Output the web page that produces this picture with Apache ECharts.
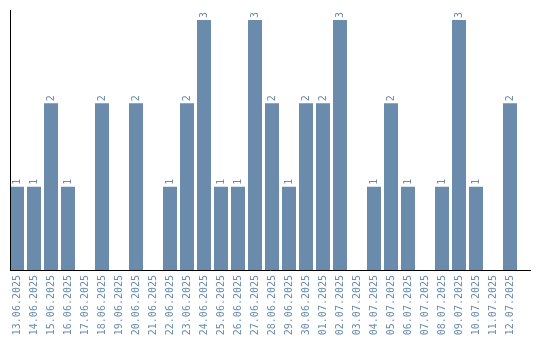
<!DOCTYPE html>
<html><head><meta charset="utf-8">
<script src="https://cdn.jsdelivr.net/npm/echarts@6/dist/echarts.min.js"></script>
<style>html,body{margin:0;padding:0;background:#fff}#c{width:540px;height:340px}</style>
</head><body><div id="c"></div>
<script>
const categories = ["13.06.2025","14.06.2025","15.06.2025","16.06.2025","17.06.2025","18.06.2025","19.06.2025","20.06.2025","21.06.2025","22.06.2025","23.06.2025","24.06.2025","25.06.2025","26.06.2025","27.06.2025","28.06.2025","29.06.2025","30.06.2025","01.07.2025","02.07.2025","03.07.2025","04.07.2025","05.07.2025","06.07.2025","07.07.2025","08.07.2025","09.07.2025","10.07.2025","11.07.2025","12.07.2025"];
const values = [1,1,2,1,0,2,0,2,0,1,2,3,1,1,3,2,1,2,2,3,0,1,2,1,0,1,3,1,0,2];

const chart = echarts.init(document.getElementById('c'), null, {renderer:'canvas'});
const blue = '#6a8bac';
chart.setOption({
  animation: false,
  grid: {left: 8.5, width: 510, top: 20, height: 250, containLabel: false},
  xAxis: {
    type: 'category', data: categories,
    axisLine: {show: false}, axisTick: {show: false},
    axisLabel: {rotate: 90, interval: 0, margin: 5, color: blue, fontFamily: 'DejaVu Sans Mono', fontSize: 10}
  },
  yAxis: {
    type: 'value', min: 0, max: 3,
    axisLine: {show: false}, axisTick: {show: false}, axisLabel: {show: false}, splitLine: {show: false}
  },
  series: [{
    type: 'bar', data: values,
    barWidth: 14,
    itemStyle: {color: blue},
    label: {
      show: true, position: 'top', rotate: 90, distance: 2,
      align: 'left', verticalAlign: 'middle',
      color: blue, fontFamily: 'DejaVu Sans Mono', fontSize: 10,
      formatter: p => p.value ? String(p.value) : ''
    }
  }],
  graphic: [
    {type: 'line', shape: {x1: 10.5, y1: 10, x2: 10.5, y2: 270}, style: {stroke: '#000', lineWidth: 1}, z: 100},
    {type: 'line', shape: {x1: 10, y1: 270.5, x2: 531, y2: 270.5}, style: {stroke: '#000', lineWidth: 1}, z: 100}
  ]
});
</script></body></html>
